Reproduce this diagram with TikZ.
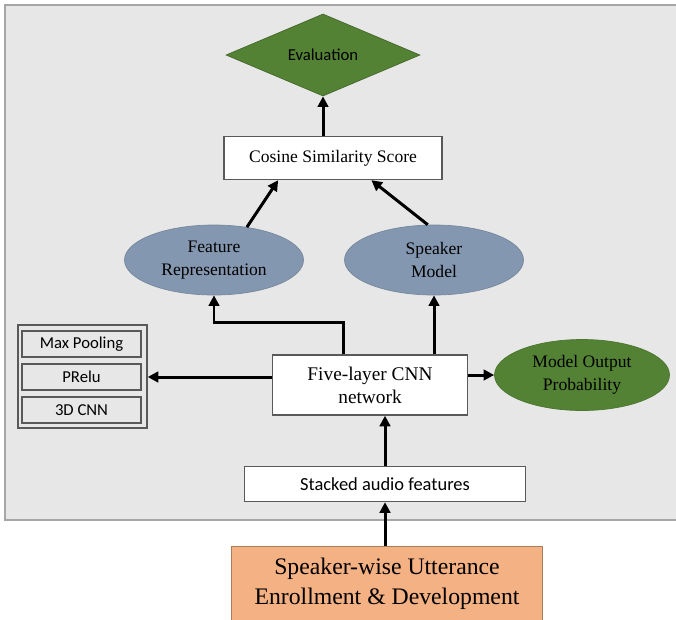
\documentclass[tikz,border=0pt]{standalone}
\usepackage{fontspec}
\setmainfont{Liberation Serif}
\newfontfamily\calibfont{Carlito}
\usepackage{tikz}
\usetikzlibrary{shapes.geometric, arrows.meta, positioning, calc}
\usepackage{xcolor}
\definecolor{panelgray}{RGB}{231, 231, 231}
\definecolor{evalgreen}{RGB}{84, 130, 53}
\definecolor{slateblue}{RGB}{132, 151, 176}
\definecolor{inputorange}{RGB}{244, 177, 131}

\begin{document}
\begin{tikzpicture}[
    panel/.style={rectangle, draw=gray!70, fill=panelgray, thick},
    block/.style={rectangle, draw=gray!70!black, fill=white, thick, inner sep=2pt, align=center},
    blob/.style={ellipse, fill=slateblue, draw=slateblue!90!black, inner sep=0pt, align=center, font=\fontsize{10}{13}\selectfont},
    greenblob/.style={ellipse, fill=evalgreen, draw=evalgreen!90!black, inner sep=0pt, align=center, font=\fontsize{10}{13}\selectfont},
    layerbox/.style={rectangle, draw=gray!70!black, fill=panelgray, thick, minimum width=2.38cm, minimum height=0.52cm, inner sep=0pt, font=\calibfont\fontsize{9.5}{11}\selectfont},
    arr/.style={-{Triangle[length=6pt, width=6pt]}, line width=1.7pt}
]
    \useasboundingbox (0,0) rectangle (13.52,-12.38);

    % Grey panel behind the network part
    \draw[panel] (0.1,-0.1) rectangle (13.7,-10.4);

    % Top: evaluation and score
    \node[diamond, fill=evalgreen, draw=evalgreen!80!black, inner sep=0pt, minimum width=3.88cm, minimum height=1.6cm, font=\calibfont\fontsize{9.5}{11}\selectfont] (eva) at (6.46,-1.1) {Evaluation};
    \node[block, minimum width=4.36cm, minimum height=0.86cm, font=\fontsize{10}{12}\selectfont] (cos) at (6.66,-3.16) {Cosine Similarity Score};

    % Embeddings
    \node[blob, minimum width=3.58cm, minimum height=1.4cm] (fr) at (4.28,-5.2) {Feature\\Representation};
    \node[blob, minimum width=3.58cm, minimum height=1.4cm] (sm) at (8.68,-5.2) {Speaker\\Model};

    % Network and its layers
    \node[block, minimum width=3.9cm, minimum height=1.2cm, font=\fontsize{11}{13}\selectfont] (cnn) at (7.4,-7.7) {Five-layer CNN\\network};
    \node[rectangle, draw=gray!70!black, fill=panelgray, thick, minimum width=2.58cm, minimum height=2.06cm] (grp) at (1.65,-7.53) {};
    \node[layerbox] (pool) at (1.63,-6.88) {Max Pooling};
    \node[layerbox] (prelu) at (1.63,-7.54) {PRelu};
    \node[layerbox] (conv) at (1.63,-8.2) {3D CNN};
    \node[greenblob, minimum width=3.5cm, minimum height=1.42cm] (mop) at (11.64,-7.5) {Model Output\\Probability};

    % Inputs
    \node[block, minimum width=5.62cm, minimum height=0.7cm, font=\calibfont\fontsize{10.5}{12}\selectfont] (stk) at (7.7,-9.68) {Stacked audio features};
    \node[rectangle, fill=inputorange, draw=inputorange!70!black, minimum width=6.22cm, minimum height=1.5cm, align=center, font=\fontsize{13.5}{17}\selectfont] (src) at (7.74,-11.68) {Speaker-wise Utterance\\Enrollment \& Development};

    % Arrows
    \coordinate (bend) at (6.86,-6.44);
    \draw[arr] (src.north -| stk.north) -- (stk.south);
    \draw[arr] (stk.north) -- (stk.north |- cnn.south);
    \draw[arr] (cnn.west |- prelu) -- (grp.east |- prelu);
    \draw[arr] (cnn.east |- mop) -- (mop.west);
    \draw[arr] (cnn.north -| bend) -- (bend) -| (fr.south);
    \draw[arr] (cnn.north -| sm.south) -- (sm.south);
    \draw[arr] (fr.45) -- ($(cos.south)!0.5!(cos.south west)$);
    \draw[arr] (sm.100) -- ($(cos.south)!0.35!(cos.south east)$);
    \draw[arr] (cos.north -| eva.south) -- (eva.south);

\end{tikzpicture}
\end{document}
